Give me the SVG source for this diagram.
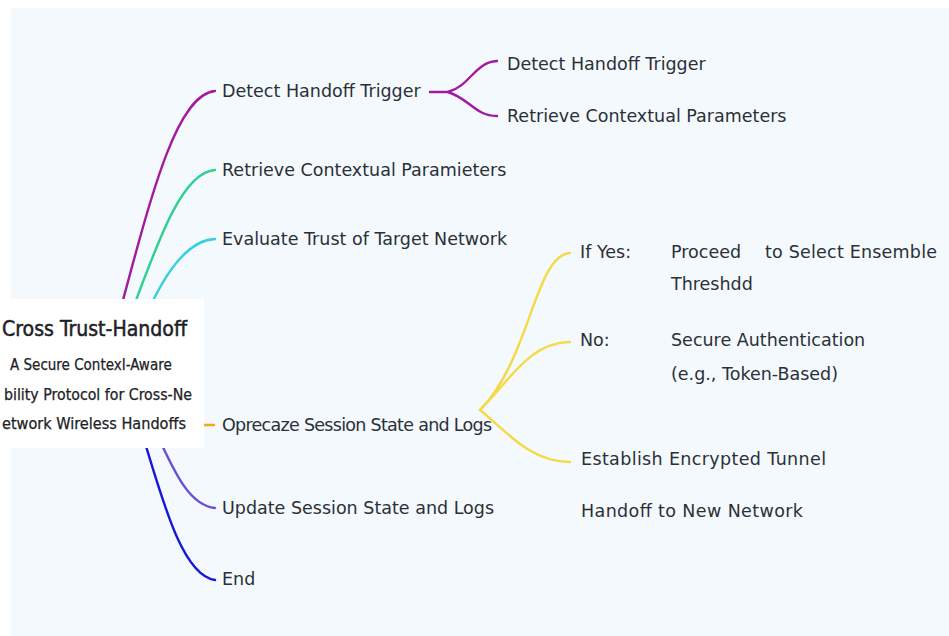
<svg xmlns="http://www.w3.org/2000/svg" width="949" height="636" viewBox="0 0 949 636">
  <style>
    .lbl { font-family: "DejaVu Sans", "Liberation Sans", sans-serif; font-size: 17.5px; fill: #2b3038; }
    .ttl { font-family: "DejaVu Sans Condensed", "DejaVu Sans", sans-serif; fill: #1e2228; }
    .edge { fill: none; stroke-width: 2.4; stroke-linecap: round; }
  </style>

  <!-- canvas -->
  <rect x="0" y="0" width="949" height="636" fill="#ffffff"/>
  <rect x="11" y="8" width="938" height="628" fill="#f3f9fc"/>

  <!-- connectors -->
  <g id="connectors">
    <path class="edge" stroke="#a3199f" d="M115,330 C150,200 175,95 215,91"/>
    <path class="edge" stroke="#2fd092" d="M125,330 C155,250 180,172 215,170"/>
    <path class="edge" stroke="#33d0e2" d="M140,330 C160,280 185,240 215,239"/>
    <path class="edge" stroke="#f5a623" d="M180,425 L214,425"/>
    <path class="edge" stroke="#6a4fd6" d="M150,420 C170,460 185,505 215,508"/>
    <path class="edge" stroke="#1717d8" d="M138,420 C160,490 180,575 215,580"/>
    <!-- sub-branches of Detect Handoff Trigger -->
    <path class="edge" stroke="#a3199f" d="M430,92 L448,92 C470,86 475,62 497,61"/>
    <path class="edge" stroke="#a3199f" d="M448,92 C470,99 475,116 497,116"/>
    <!-- sub-branches of session state -->
    <path class="edge" stroke="#f4da45" d="M480,410 C530,360 535,255 570,253"/>
    <path class="edge" stroke="#f4da45" d="M480,410 C510,380 530,342 570,342"/>
    <path class="edge" stroke="#f4da45" d="M480,410 C505,430 530,462 570,462"/>
  </g>

  <!-- root node -->
  <g id="root">
    <rect x="0" y="299" width="204" height="149" fill="#ffffff"/>
    <text class="ttl" x="2" y="336" font-size="21" stroke="#1e2228" stroke-width="0.5" textLength="185" lengthAdjust="spacingAndGlyphs">Cross Trust-Handoff</text>
    <text class="ttl" x="10" y="370" font-size="15" stroke="#1e2228" stroke-width="0.25">A Secure ContexI-Aware</text>
    <text class="ttl" x="4" y="400" font-size="15" stroke="#1e2228" stroke-width="0.25" textLength="188" lengthAdjust="spacingAndGlyphs">bility Protocol for Cross-Ne</text>
    <text class="ttl" x="2" y="429" font-size="15.5" stroke="#1e2228" stroke-width="0.25" textLength="184" lengthAdjust="spacingAndGlyphs">etwork Wireless Handoffs</text>
  </g>

  <!-- first-level nodes -->
  <g id="n-detect"><text class="lbl" x="222" y="97">Detect Handoff Trigger</text></g>
  <g id="n-retrieve"><text class="lbl" x="222" y="176">Retrieve Contextual Paramieters</text></g>
  <g id="n-evaluate"><text class="lbl" x="222" y="245">Evaluate Trust of Target Network</text></g>
  <g id="n-oprecaze"><text class="lbl" x="222" y="431" textLength="270">Oprecaze Session State and Logs</text></g>
  <g id="n-update"><text class="lbl" x="222" y="514">Update Session State and Logs</text></g>
  <g id="n-end"><text class="lbl" x="222" y="585">End</text></g>

  <!-- second-level nodes -->
  <g id="n-detect-2"><text class="lbl" x="507" y="70">Detect Handoff Trigger</text></g>
  <g id="n-retrieve-2"><text class="lbl" x="507" y="122">Retrieve Contextual Parameters</text></g>
  <g id="n-yes">
    <text class="lbl" x="580" y="258">If Yes:</text>
    <text class="lbl" x="671" y="258">Proceed</text>
    <text class="lbl" x="765" y="258" textLength="172">to Select Ensemble</text>
    <text class="lbl" x="671" y="290">Threshdd</text>
  </g>
  <g id="n-no">
    <text class="lbl" x="580" y="346">No:</text>
    <text class="lbl" x="671" y="346">Secure Authentication</text>
    <text class="lbl" x="671" y="380">(e.g., Token-Based)</text>
  </g>
  <g id="n-tunnel"><text class="lbl" x="581" y="465" textLength="245">Establish Encrypted Tunnel</text></g>
  <g id="n-handoff"><text class="lbl" x="581" y="517" textLength="222">Handoff to New Network</text></g>
</svg>
